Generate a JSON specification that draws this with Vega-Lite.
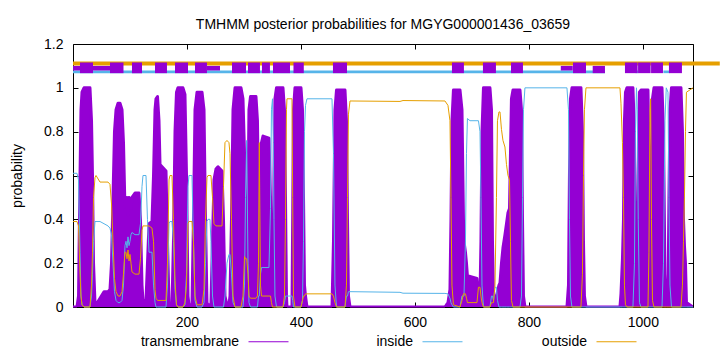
{
  "$schema": "https://vega.github.io/schema/vega-lite/v6.json",
  "width": 620,
  "height": 263,
  "autosize": {"type": "none"},
  "padding": {"left": 73, "top": 44, "right": 27, "bottom": 45},
  "config": {
    "font": "Liberation Sans",
    "view": {"stroke": "#000000", "strokeWidth": 1},
    "axis": {"labelFont": "Liberation Sans", "titleFont": "Liberation Sans", "labelColor": "#000000", "titleColor": "#000000", "tickColor": "#000000"},
    "legend": {"labelFont": "Liberation Sans", "labelColor": "#000000"}
  },
  "title": {"text": "TMHMM posterior probabilities for MGYG000001436_03659", "fontSize": 14, "fontWeight": "normal", "color": "#000000", "offset": 5, "anchor": "middle"},
  "resolve": {"axis": {"x": "independent", "y": "independent"}},
  "datasets": {
    "prob": [
      {"x":0,"transmembrane":0,"inside":0.61,"outside":0.39},
      {"x":7.0,"transmembrane":0,"inside":0.61,"outside":0.39},
      {"x":9.7,"transmembrane":0.05,"inside":0.58,"outside":0.37},
      {"x":12.3,"transmembrane":0.6,"inside":0.25,"outside":0.15},
      {"x":14.0,"transmembrane":0.9,"inside":0.05,"outside":0.05},
      {"x":15.8,"transmembrane":0.98,"inside":0.01,"outside":0.01},
      {"x":19.3,"transmembrane":1,"inside":0,"outside":0},
      {"x":29.8,"transmembrane":1,"inside":0,"outside":0},
      {"x":32.5,"transmembrane":0.85,"inside":0.05,"outside":0.1},
      {"x":34.2,"transmembrane":0.6,"inside":0.15,"outside":0.25},
      {"x":36.0,"transmembrane":0.2,"inside":0.3,"outside":0.5},
      {"x":38.6,"transmembrane":0.02,"inside":0.39,"outside":0.59},
      {"x":40.4,"transmembrane":0.01,"inside":0.39,"outside":0.6},
      {"x":47.4,"transmembrane":0.04,"inside":0.39,"outside":0.57},
      {"x":54.4,"transmembrane":0.07,"inside":0.38,"outside":0.57},
      {"x":61.4,"transmembrane":0.07,"inside":0.37,"outside":0.57},
      {"x":64.9,"transmembrane":0.08,"inside":0.36,"outside":0.56},
      {"x":67.6,"transmembrane":0.2,"inside":0.33,"outside":0.47},
      {"x":70.2,"transmembrane":0.5,"inside":0.2,"outside":0.3},
      {"x":72.8,"transmembrane":0.8,"inside":0.07,"outside":0.13},
      {"x":75.5,"transmembrane":0.9,"inside":0.03,"outside":0.07},
      {"x":79.0,"transmembrane":0.93,"inside":0.02,"outside":0.05},
      {"x":82.5,"transmembrane":0.93,"inside":0.02,"outside":0.05},
      {"x":86.0,"transmembrane":0.9,"inside":0.03,"outside":0.07},
      {"x":88.6,"transmembrane":0.75,"inside":0.1,"outside":0.15},
      {"x":91.2,"transmembrane":0.45,"inside":0.28,"outside":0.25},
      {"x":93.0,"transmembrane":0.45,"inside":0.3,"outside":0.25},
      {"x":94.8,"transmembrane":0.5,"inside":0.27,"outside":0.22},
      {"x":96.5,"transmembrane":0.42,"inside":0.32,"outside":0.26},
      {"x":98.3,"transmembrane":0.5,"inside":0.28,"outside":0.21},
      {"x":100.0,"transmembrane":0.48,"inside":0.3,"outside":0.24},
      {"x":101.8,"transmembrane":0.45,"inside":0.33,"outside":0.2},
      {"x":103.5,"transmembrane":0.5,"inside":0.34,"outside":0.16},
      {"x":108.8,"transmembrane":0.52,"inside":0.33,"outside":0.15},
      {"x":115.8,"transmembrane":0.52,"inside":0.33,"outside":0.15},
      {"x":118.4,"transmembrane":0.4,"inside":0.38,"outside":0.22},
      {"x":121.1,"transmembrane":0.1,"inside":0.55,"outside":0.35},
      {"x":122.8,"transmembrane":0.03,"inside":0.6,"outside":0.37},
      {"x":128.1,"transmembrane":0.03,"inside":0.6,"outside":0.37},
      {"x":130.7,"transmembrane":0.2,"inside":0.4,"outside":0.37},
      {"x":133.4,"transmembrane":0.38,"inside":0.25,"outside":0.37},
      {"x":138.6,"transmembrane":0.39,"inside":0.25,"outside":0.36},
      {"x":141.3,"transmembrane":0.6,"inside":0.1,"outside":0.3},
      {"x":143.9,"transmembrane":0.9,"inside":0.02,"outside":0.08},
      {"x":145.6,"transmembrane":0.95,"inside":0,"outside":0.04},
      {"x":148.3,"transmembrane":0.96,"inside":0,"outside":0.03},
      {"x":150.9,"transmembrane":0.85,"inside":0,"outside":0.03},
      {"x":152.7,"transmembrane":0.65,"inside":0,"outside":0.03},
      {"x":163.2,"transmembrane":0.62,"inside":0,"outside":0.03},
      {"x":165.8,"transmembrane":0.3,"inside":0.1,"outside":0.2},
      {"x":168.5,"transmembrane":0.02,"inside":0.38,"outside":0.58},
      {"x":170.2,"transmembrane":0.01,"inside":0.39,"outside":0.6},
      {"x":173.7,"transmembrane":0.01,"inside":0.39,"outside":0.6},
      {"x":176.3,"transmembrane":0.3,"inside":0.3,"outside":0.4},
      {"x":179.0,"transmembrane":0.8,"inside":0.08,"outside":0.12},
      {"x":181.6,"transmembrane":0.98,"inside":0.01,"outside":0.01},
      {"x":184.2,"transmembrane":1,"inside":0,"outside":0},
      {"x":193.0,"transmembrane":1,"inside":0,"outside":0},
      {"x":196.5,"transmembrane":0.97,"inside":0.01,"outside":0.02},
      {"x":199.2,"transmembrane":0.6,"inside":0.15,"outside":0.1},
      {"x":201.8,"transmembrane":0.05,"inside":0.55,"outside":0.38},
      {"x":203.5,"transmembrane":0.01,"inside":0.6,"outside":0.39},
      {"x":208.8,"transmembrane":0.01,"inside":0.6,"outside":0.39},
      {"x":211.4,"transmembrane":0.4,"inside":0.3,"outside":0.3},
      {"x":214.1,"transmembrane":0.9,"inside":0.03,"outside":0.05},
      {"x":217.6,"transmembrane":0.98,"inside":0,"outside":0.01},
      {"x":226.4,"transmembrane":0.98,"inside":0,"outside":0.01},
      {"x":229.9,"transmembrane":0.9,"inside":0.02,"outside":0.08},
      {"x":232.5,"transmembrane":0.4,"inside":0.2,"outside":0.4},
      {"x":235.1,"transmembrane":0.02,"inside":0.39,"outside":0.59},
      {"x":236.9,"transmembrane":0.01,"inside":0.4,"outside":0.6},
      {"x":240.4,"transmembrane":0.01,"inside":0.4,"outside":0.6},
      {"x":242.1,"transmembrane":0.01,"inside":0.3,"outside":0.6},
      {"x":244.8,"transmembrane":0.3,"inside":0.05,"outside":0.5},
      {"x":247.4,"transmembrane":0.58,"inside":0,"outside":0.38},
      {"x":250.9,"transmembrane":0.63,"inside":0,"outside":0.37},
      {"x":254.4,"transmembrane":0.64,"inside":0,"outside":0.37},
      {"x":261.5,"transmembrane":0.62,"inside":0,"outside":0.37},
      {"x":264.1,"transmembrane":0.4,"inside":0,"outside":0.55},
      {"x":266.7,"transmembrane":0.05,"inside":0.05,"outside":0.75},
      {"x":270.2,"transmembrane":0.01,"inside":0.2,"outside":0.76},
      {"x":273.7,"transmembrane":0.01,"inside":0.24,"outside":0.75},
      {"x":275.5,"transmembrane":0.05,"inside":0.24,"outside":0.7},
      {"x":278.1,"transmembrane":0.4,"inside":0.15,"outside":0.4},
      {"x":280.8,"transmembrane":0.9,"inside":0.02,"outside":0.05},
      {"x":284.3,"transmembrane":1,"inside":0,"outside":0},
      {"x":294.8,"transmembrane":1,"inside":0,"outside":0},
      {"x":298.3,"transmembrane":0.95,"inside":0,"outside":0.05},
      {"x":301.0,"transmembrane":0.7,"inside":0.1,"outside":0.23},
      {"x":302.7,"transmembrane":0.3,"inside":0.5,"outside":0.22},
      {"x":304.8,"transmembrane":0.02,"inside":0.76,"outside":0.22},
      {"x":307.1,"transmembrane":0.5,"inside":0.2,"outside":0.15},
      {"x":308.8,"transmembrane":0.9,"inside":0.02,"outside":0.05},
      {"x":311.5,"transmembrane":0.96,"inside":0,"outside":0.04},
      {"x":321.1,"transmembrane":0.96,"inside":0,"outside":0.04},
      {"x":323.7,"transmembrane":0.85,"inside":0,"outside":0.05},
      {"x":325.5,"transmembrane":0.5,"inside":0.05,"outside":0.2},
      {"x":326.9,"transmembrane":0.2,"inside":0.05,"outside":0.75},
      {"x":329.0,"transmembrane":0.6,"inside":0.15,"outside":0.1},
      {"x":330.8,"transmembrane":0.75,"inside":0.18,"outside":0.05},
      {"x":333.4,"transmembrane":0.78,"inside":0.18,"outside":0.05},
      {"x":343.9,"transmembrane":0.77,"inside":0.18,"outside":0.05},
      {"x":346.6,"transmembrane":0.5,"inside":0.45,"outside":0.05},
      {"x":348.3,"transmembrane":0.1,"inside":0.9,"outside":0.02},
      {"x":350.1,"transmembrane":0.05,"inside":0.95,"outside":0},
      {"x":351.5,"transmembrane":0.2,"inside":0.75,"outside":0},
      {"x":352.7,"transmembrane":0.6,"inside":0.4,"outside":0},
      {"x":354.4,"transmembrane":0.95,"inside":0.05,"outside":0},
      {"x":357.1,"transmembrane":1,"inside":0,"outside":0},
      {"x":368.5,"transmembrane":1,"inside":0,"outside":0},
      {"x":371.1,"transmembrane":0.9,"inside":0.02,"outside":0.05},
      {"x":372.9,"transmembrane":0.5,"inside":0.05,"outside":0.4},
      {"x":374.6,"transmembrane":0.05,"inside":0.05,"outside":0.9},
      {"x":375.5,"transmembrane":0,"inside":0.05,"outside":0.95},
      {"x":384.3,"transmembrane":0,"inside":0.05,"outside":0.95},
      {"x":385.5,"transmembrane":0.4,"inside":0.03,"outside":0.5},
      {"x":386.9,"transmembrane":0.9,"inside":0,"outside":0.05},
      {"x":389.5,"transmembrane":1,"inside":0,"outside":0},
      {"x":400.1,"transmembrane":1,"inside":0,"outside":0},
      {"x":402.7,"transmembrane":0.9,"inside":0.03,"outside":0.03},
      {"x":404.5,"transmembrane":0.5,"inside":0.3,"outside":0.05},
      {"x":406.2,"transmembrane":0.1,"inside":0.8,"outside":0.05},
      {"x":408.0,"transmembrane":0.05,"inside":0.92,"outside":0.06},
      {"x":410.6,"transmembrane":0,"inside":0.95,"outside":0.06},
      {"x":454.5,"transmembrane":0,"inside":0.95,"outside":0.06},
      {"x":457.1,"transmembrane":0.3,"inside":0.7,"outside":0.05},
      {"x":459.7,"transmembrane":0.9,"inside":0.1,"outside":0.02},
      {"x":462.4,"transmembrane":0.99,"inside":0,"outside":0},
      {"x":477.3,"transmembrane":0.99,"inside":0,"outside":0},
      {"x":479.9,"transmembrane":0.85,"inside":0.05,"outside":0.1},
      {"x":481.7,"transmembrane":0.4,"inside":0.05,"outside":0.5},
      {"x":483.4,"transmembrane":0.05,"inside":0.07,"outside":0.88},
      {"x":486.1,"transmembrane":0,"inside":0.07,"outside":0.94},
      {"x":573.8,"transmembrane":0,"inside":0.067,"outside":0.938},
      {"x":579.1,"transmembrane":0,"inside":0.063,"outside":0.942},
      {"x":652.7,"transmembrane":0,"inside":0.062,"outside":0.94},
      {"x":658.0,"transmembrane":0.02,"inside":0.06,"outside":0.92},
      {"x":661.5,"transmembrane":0.08,"inside":0.04,"outside":0.85},
      {"x":663.3,"transmembrane":0.4,"inside":0.02,"outside":0.5},
      {"x":665.0,"transmembrane":0.85,"inside":0.01,"outside":0.1},
      {"x":667.6,"transmembrane":0.99,"inside":0,"outside":0.01},
      {"x":679.1,"transmembrane":0.99,"inside":0,"outside":0},
      {"x":682.6,"transmembrane":0.9,"inside":0.05,"outside":0.03},
      {"x":685.2,"transmembrane":0.4,"inside":0.05,"outside":0.06},
      {"x":686.1,"transmembrane":0.3,"inside":0.05,"outside":0.06},
      {"x":688.7,"transmembrane":0.25,"inside":0.3,"outside":0.06},
      {"x":690.5,"transmembrane":0.2,"inside":0.7,"outside":0.04},
      {"x":692.2,"transmembrane":0.14,"inside":0.86,"outside":0.02},
      {"x":696.6,"transmembrane":0.14,"inside":0.85,"outside":0.02},
      {"x":708.9,"transmembrane":0.13,"inside":0.85,"outside":0.02},
      {"x":711.5,"transmembrane":0.05,"inside":0.85,"outside":0.09},
      {"x":714.2,"transmembrane":0.05,"inside":0.8,"outside":0.09},
      {"x":715.9,"transmembrane":0.3,"inside":0.5,"outside":0.05},
      {"x":717.7,"transmembrane":0.8,"inside":0.1,"outside":0.02},
      {"x":720.3,"transmembrane":1,"inside":0,"outside":0},
      {"x":731.7,"transmembrane":1,"inside":0,"outside":0},
      {"x":734.4,"transmembrane":0.9,"inside":0.05,"outside":0.02},
      {"x":736.1,"transmembrane":0.3,"inside":0.05,"outside":0.02},
      {"x":737.9,"transmembrane":0.05,"inside":0.03,"outside":0.02},
      {"x":740.5,"transmembrane":0.05,"inside":0.09,"outside":0.1},
      {"x":743.1,"transmembrane":0.05,"inside":0.09,"outside":0.5},
      {"x":744.9,"transmembrane":0.07,"inside":0.03,"outside":0.85},
      {"x":747.5,"transmembrane":0.1,"inside":0,"outside":0.89},
      {"x":749.3,"transmembrane":0.11,"inside":0,"outside":0.89},
      {"x":751.9,"transmembrane":0.2,"inside":0,"outside":0.81},
      {"x":754.5,"transmembrane":0.27,"inside":0,"outside":0.76},
      {"x":758.0,"transmembrane":0.33,"inside":0,"outside":0.73},
      {"x":760.7,"transmembrane":0.38,"inside":0,"outside":0.65},
      {"x":763.3,"transmembrane":0.43,"inside":0,"outside":0.6},
      {"x":766.0,"transmembrane":0.45,"inside":0,"outside":0.58},
      {"x":767.7,"transmembrane":0.7,"inside":0,"outside":0.3},
      {"x":769.4,"transmembrane":0.95,"inside":0,"outside":0.03},
      {"x":772.1,"transmembrane":0.99,"inside":0,"outside":0},
      {"x":784.4,"transmembrane":0.99,"inside":0,"outside":0},
      {"x":787.0,"transmembrane":0.9,"inside":0.05,"outside":0},
      {"x":788.8,"transmembrane":0.4,"inside":0.5,"outside":0},
      {"x":790.5,"transmembrane":0.05,"inside":0.9,"outside":0},
      {"x":793.1,"transmembrane":0,"inside":1,"outside":0},
      {"x":866.8,"transmembrane":0,"inside":1,"outside":0},
      {"x":869.5,"transmembrane":0.1,"inside":0.9,"outside":0},
      {"x":871.2,"transmembrane":0.6,"inside":0.4,"outside":0},
      {"x":873.0,"transmembrane":0.95,"inside":0.05,"outside":0},
      {"x":875.6,"transmembrane":1,"inside":0,"outside":0},
      {"x":891.4,"transmembrane":1,"inside":0,"outside":0},
      {"x":894.0,"transmembrane":0.8,"inside":0,"outside":0.15},
      {"x":895.8,"transmembrane":0.3,"inside":0,"outside":0.6},
      {"x":897.5,"transmembrane":0.05,"inside":0,"outside":0.9},
      {"x":900.2,"transmembrane":0,"inside":0,"outside":1},
      {"x":959.8,"transmembrane":0,"inside":0,"outside":1},
      {"x":961.6,"transmembrane":0.06,"inside":0,"outside":0.93},
      {"x":964.2,"transmembrane":0.22,"inside":0,"outside":0.75},
      {"x":966.0,"transmembrane":0.4,"inside":0,"outside":0.5},
      {"x":967.7,"transmembrane":0.85,"inside":0,"outside":0.1},
      {"x":969.5,"transmembrane":0.98,"inside":0,"outside":0.01},
      {"x":972.1,"transmembrane":1,"inside":0,"outside":0},
      {"x":982.6,"transmembrane":1,"inside":0,"outside":0},
      {"x":985.3,"transmembrane":0.8,"inside":0.2,"outside":0},
      {"x":987.0,"transmembrane":0.2,"inside":0.8,"outside":0},
      {"x":988.8,"transmembrane":0,"inside":1,"outside":0},
      {"x":990.2,"transmembrane":0.1,"inside":0.9,"outside":0},
      {"x":991.9,"transmembrane":0.6,"inside":0.4,"outside":0},
      {"x":994.0,"transmembrane":0.98,"inside":0.02,"outside":0},
      {"x":996.7,"transmembrane":0.99,"inside":0,"outside":0},
      {"x":1009.0,"transmembrane":0.99,"inside":0,"outside":0},
      {"x":1010.7,"transmembrane":0.7,"inside":0,"outside":0.25},
      {"x":1012.5,"transmembrane":0.1,"inside":0,"outside":0.9},
      {"x":1013.7,"transmembrane":0.05,"inside":0,"outside":0.95},
      {"x":1015.1,"transmembrane":0.6,"inside":0,"outside":0.4},
      {"x":1016.9,"transmembrane":0.95,"inside":0,"outside":0.03},
      {"x":1019.5,"transmembrane":1,"inside":0,"outside":0},
      {"x":1033.6,"transmembrane":1,"inside":0,"outside":0},
      {"x":1036.2,"transmembrane":0.8,"inside":0.2,"outside":0},
      {"x":1038.8,"transmembrane":0.15,"inside":0.85,"outside":0},
      {"x":1041.1,"transmembrane":0,"inside":1,"outside":0},
      {"x":1044.1,"transmembrane":0.02,"inside":0.98,"outside":0},
      {"x":1045.8,"transmembrane":0.5,"inside":0.5,"outside":0},
      {"x":1047.6,"transmembrane":0.9,"inside":0.1,"outside":0},
      {"x":1050.2,"transmembrane":1,"inside":0,"outside":0},
      {"x":1066.9,"transmembrane":1,"inside":0,"outside":0},
      {"x":1069.5,"transmembrane":0.8,"inside":0,"outside":0.1},
      {"x":1071.3,"transmembrane":0.4,"inside":0,"outside":0.3},
      {"x":1073.0,"transmembrane":0.28,"inside":0,"outside":0.5},
      {"x":1074.8,"transmembrane":0.2,"inside":0,"outside":0.8},
      {"x":1076.5,"transmembrane":0.02,"inside":0,"outside":0.98},
      {"x":1088,"transmembrane":0,"inside":0,"outside":1}
    ],
    "bands": [
      {"start":0,"end":1135,"kind":"out"},
      {"start":0,"end":933.5,"kind":"in"},
      {"start":987,"end":992,"kind":"in"},
      {"start":1036,"end":1047,"kind":"in"},
      {"start":0,"end":12.3,"kind":"thin"},
      {"start":35,"end":65,"kind":"thin"},
      {"start":235,"end":258,"kind":"thin"},
      {"start":856,"end":877,"kind":"thin"},
      {"start":912,"end":933.5,"kind":"low"},
      {"start":12.3,"end":35.1,"kind":"tm"},
      {"start":64.9,"end":88.6,"kind":"tm"},
      {"start":103.5,"end":121.1,"kind":"tm"},
      {"start":143.9,"end":164.9,"kind":"tm"},
      {"start":179,"end":201.8,"kind":"tm"},
      {"start":214.1,"end":235.1,"kind":"tm"},
      {"start":279,"end":303.6,"kind":"tm"},
      {"start":307.1,"end":328.1,"kind":"tm"},
      {"start":331.6,"end":345.6,"kind":"tm"},
      {"start":351,"end":380.8,"kind":"tm"},
      {"start":386.9,"end":405,"kind":"tm"},
      {"start":456.2,"end":480.8,"kind":"tm"},
      {"start":665,"end":686,"kind":"tm"},
      {"start":719.4,"end":742.2,"kind":"tm"},
      {"start":768.6,"end":789.6,"kind":"tm"},
      {"start":877.4,"end":900.2,"kind":"tm"},
      {"start":968.6,"end":990.8,"kind":"tm"},
      {"start":991.6,"end":1013.6,"kind":"tm"},
      {"start":1014.4,"end":1035.3,"kind":"tm"},
      {"start":1045.8,"end":1068.6,"kind":"tm"}
    ]
  },
  "layer": [
    {
      "data": {"name": "bands"},
      "transform": [{"filter": "datum.kind === 'out'"}],
      "mark": {"type": "rect", "color": "#e69f00"},
      "encoding": {
        "x": {"field": "start", "type": "quantitative", "scale": {"domain": [0, 1088], "nice": false, "zero": false},
              "axis": {"orient": "top", "values": [200, 400, 600, 800, 1000], "labels": false, "tickSize": -5, "domain": false, "grid": false, "title": null}},
        "x2": {"field": "end"},
        "y": {"datum": 1.102, "scale": {"domain": [0, 1.2], "nice": false, "zero": false},
              "axis": {"orient": "right", "values": [0, 0.2, 0.4, 0.6, 0.8, 1, 1.2], "labels": false, "tickSize": -5, "domain": false, "grid": false, "title": null}},
        "y2": {"datum": 1.12}
      }
    },
    {
      "data": {"name": "bands"},
      "transform": [{"filter": "datum.kind === 'in'"}],
      "mark": {"type": "rect", "color": "#56b4e9"},
      "encoding": {
        "x": {"field": "start", "type": "quantitative", "axis": null},
        "x2": {"field": "end"},
        "y": {"datum": 1.067, "axis": null},
        "y2": {"datum": 1.079}
      }
    },
    {
      "data": {"name": "bands"},
      "transform": [{"filter": "datum.kind === 'thin'"}],
      "mark": {"type": "rect", "color": "#9400d3"},
      "encoding": {
        "x": {"field": "start", "type": "quantitative", "axis": null},
        "x2": {"field": "end"},
        "y": {"datum": 1.079, "axis": null},
        "y2": {"datum": 1.1}
      }
    },
    {
      "data": {"name": "bands"},
      "transform": [{"filter": "datum.kind === 'low'"}],
      "mark": {"type": "rect", "color": "#9400d3"},
      "encoding": {
        "x": {"field": "start", "type": "quantitative", "axis": null},
        "x2": {"field": "end"},
        "y": {"datum": 1.067, "axis": null},
        "y2": {"datum": 1.1}
      }
    },
    {
      "data": {"name": "bands"},
      "transform": [{"filter": "datum.kind === 'tm'"}],
      "mark": {"type": "rect", "color": "#9400d3"},
      "encoding": {
        "x": {"field": "start", "type": "quantitative", "axis": null},
        "x2": {"field": "end"},
        "y": {"datum": 1.067, "axis": null},
        "y2": {"datum": 1.1155}
      }
    },
    {
      "data": {"name": "prob"},
      "mark": {"type": "area", "color": "#9400d3", "clip": true},
      "encoding": {
        "x": {"field": "x", "type": "quantitative",
              "axis": {"orient": "bottom", "values": [200, 400, 600, 800, 1000], "format": "d", "labelFontSize": 14, "tickSize": -5, "labelPadding": 13, "domain": false, "grid": false, "title": null}},
        "y": {"field": "transmembrane", "type": "quantitative",
              "axis": {"orient": "left", "values": [0, 0.2, 0.4, 0.6, 0.8, 1, 1.2], "format": "~g", "labelFontSize": 14, "tickSize": -5, "labelPadding": 15, "domain": false, "grid": false, "title": "probability", "titleFontSize": 14, "titleFontWeight": "normal", "titlePadding": 19}}
      }
    },
    {
      "data": {"name": "prob"},
      "mark": {"type": "line", "color": "#9400d3", "strokeWidth": 3, "strokeJoin": "round", "strokeCap": "round", "clip": true},
      "encoding": {
        "x": {"field": "x", "type": "quantitative", "axis": null},
        "y": {"field": "transmembrane", "type": "quantitative", "axis": null}
      }
    },
    {
      "data": {"name": "prob"},
      "transform": [{"fold": ["transmembrane", "inside", "outside"], "as": ["series", "value"]}],
      "mark": {"type": "line", "strokeWidth": 1},
      "encoding": {
        "x": {"field": "x", "type": "quantitative", "axis": null},
        "y": {"field": "value", "type": "quantitative", "axis": null},
        "color": {"field": "series", "type": "nominal",
                  "scale": {"domain": ["transmembrane", "inside", "outside"], "range": ["#9400d3", "#56b4e9", "#e69f00"]},
                  "legend": {"orient": "none", "legendX": 175, "legendY": 277, "title": null, "direction": "horizontal", "columns": 3, "gridAlign": "all", "columnPadding": 76,
                             "symbolType": "stroke", "symbolSize": 1600, "symbolStrokeWidth": 1, "labelAlign": "right", "labelOffset": -50, "labelFontSize": 14}}
      }
    }
  ]
}
